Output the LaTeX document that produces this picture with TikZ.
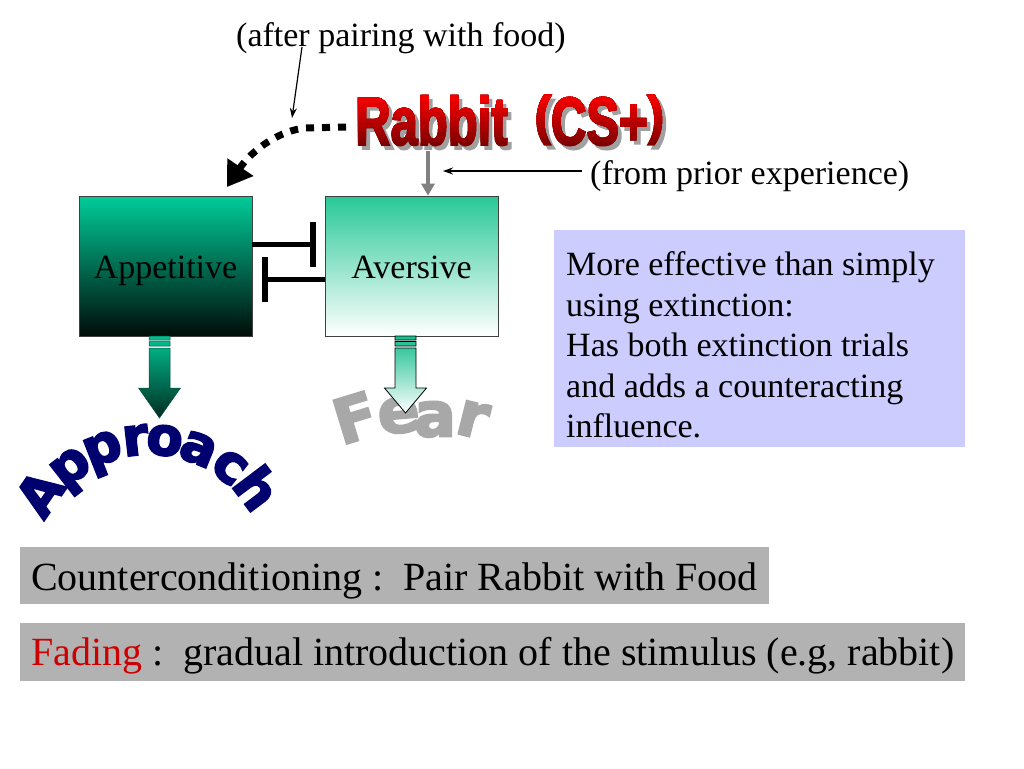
\documentclass[tikz,border=0pt]{standalone}
\usepackage{fontspec}
\setmainfont{Liberation Serif}
\newfontfamily\heavyfont[BoldFeatures={FakeBold=3.5}]{DejaVu Sans}
\newfontfamily\rabbitfont[BoldFeatures={FakeBold=2.5}]{Liberation Sans}
\usetikzlibrary{arrows.meta}

\definecolor{teal1}{RGB}{0,204,153}
\definecolor{appmid}{RGB}{0,128,100}
\definecolor{tealdark}{RGB}{0,12,8}
\definecolor{avtop}{RGB}{40,200,150}
\definecolor{avmid}{RGB}{165,230,210}
\definecolor{arrtop}{RGB}{0,195,145}
\definecolor{arrbot}{RGB}{0,45,35}
\definecolor{avarrtop}{RGB}{20,190,140}
\definecolor{lav}{RGB}{204,204,255}
\definecolor{boxgray}{RGB}{178,178,178}
\definecolor{fadered}{RGB}{204,0,0}
\definecolor{navyA}{RGB}{0,0,110}
\definecolor{feargray}{RGB}{168,168,168}
\definecolor{arrgray}{RGB}{128,128,128}
\definecolor{shadowgray}{RGB}{160,160,160}

\newcommand\rparen[1]{\raisebox{0.164em}{\scalebox{1}[0.78]{#1}}}
\newcommand\rabbittext{\rabbitfont\bfseries\fontsize{68}{68}\selectfont\scalebox{0.72}[1]{Rabbit\ \ \rparen{(}CS+\rparen{)}}}

\begin{document}
\begin{tikzpicture}[x=1pt,y=-1pt,
  txt/.style={font=\fontsize{34}{40.5}\selectfont, inner sep=0pt},
  thinarrow/.style={line width=1.2pt, -{Stealth[length=10pt,width=7pt]}},
  inhib/.style={line width=5pt},
  inhibbar/.style={line width=6pt},
  rab/.style={anchor=base west, inner sep=0pt},
  apletter/.style={font=\heavyfont\bfseries\fontsize{53}{53}\selectfont, text=navyA,
    anchor=mid, inner sep=0pt},
  fearletter/.style={font=\heavyfont\bfseries\fontsize{62}{62}\selectfont, text=feargray,
    anchor=mid, inner sep=0pt},
  bottombox/.style={fill=boxgray, anchor=north west, inner xsep=11pt,
    font=\fontsize{40}{48}\selectfont, text depth=10pt}
]
\fill[white] (0,0) rectangle (1024,768);
\useasboundingbox (0,0) rectangle (1024,768);

% ---------- top labels
\node[txt, anchor=base west] (after) at (236,46) {(after pairing with food)};
\node[txt, anchor=base west] (prior) at (590,184) {(from prior experience)};

% ---------- Rabbit (CS+)
\node[rab, text=shadowgray] (rabshadow) at (359,149) {\rabbittext};
\node[rab, text=red!50!black] (rabbit) at (355,145) {\rabbittext};
\foreach \i in {8,7,...,0}{
  \pgfmathsetmacro\pct{95-5*\i}
  \begin{scope}
    \clip (340,80) rectangle (700,101+5*\i);
    \node[rab, text=red!\pct!black] (rabbit\i) at (355,145) {\rabbittext};
  \end{scope}
}

% ---------- boxes
\node[txt, draw=black!75, line width=0.7pt, top color=teal1, middle color=appmid,
  bottom color=tealdark, minimum width=173pt, minimum height=140pt,
  text height=30pt, text depth=6pt] (appet) at (165.5,266) {Appetitive};
\node[txt, draw=black!75, line width=0.7pt, top color=avtop, middle color=avmid,
  bottom color=white, minimum width=173pt, minimum height=140pt,
  text height=30pt, text depth=6pt] (avers) at (411.5,266) {Aversive};

% ---------- connectors
\coordinate (afterend) at (292,118);
\coordinate (afterstart) at (302,47);
\draw[thinarrow] (afterstart) -- (afterend);

\coordinate (dotstart) at (346,127);
\coordinate (dotend) at (227,187);
\draw[line width=7pt, dash pattern=on 8pt off 8pt, -{Triangle[length=24pt,width=30pt]}]
  (dotstart) -- (306,128) .. controls (280,130) and (252,150) .. (dotend);

\coordinate (rabbot) at (428,151);
\draw[line width=4pt, arrgray, -{Triangle[length=12pt,width=13pt]}]
  (rabbot) -- (avers.north -| rabbot);

\coordinate (priorstart) at (582,171);
\coordinate (priorend) at (443,171);
\draw[thinarrow] (priorstart) -- (priorend);

% inhibition
\coordinate (barA) at (313,244);
\coordinate (barB) at (265,279);
\draw[inhib] (appet.east |- barA) -- (barA);
\draw[inhibbar] ([yshift=-22.5pt]barA) -- ([yshift=22.5pt]barA);
\draw[inhib] (avers.west |- barB) -- (barB);
\draw[inhibbar] ([yshift=-22.5pt]barB) -- ([yshift=22.5pt]barB);

% ---------- Fear (behind arrow tip)
\node[fearletter, rotate=17] (fear1) at (361,437) {F};
\node[fearletter, rotate=5] (fear2) at (400,430) {e};
\node[fearletter, rotate=0] (fear3) at (435,434) {a};
\node[fearletter, rotate=-14] (fear4) at (469,434) {r};

% ---------- block arrows
\shade[top color=arrtop, bottom color=arrbot, draw=black!60!teal1, line width=0.5pt]
  (149,336) rectangle (170,340)
  (149,341.5) rectangle (170,346)
  (149,348) -- (170,348) -- (170,388) -- (180.5,388) -- (159.5,418) -- (138.5,388) -- (149,388) -- cycle;
\shade[top color=avarrtop, bottom color=white, draw=black, line width=0.8pt]
  (395,336) rectangle (416,340)
  (395,341.5) rectangle (416,346)
  (395,348) -- (416,348) -- (416,388) -- (426.5,388) -- (405.5,413) -- (384.5,388) -- (395,388) -- cycle;

% ---------- Approach (letters on an arc)
\foreach \l/\a [count=\k] in {A/-55.5,p/-38,p/-21.5,r/-6.5,o/6.5,a/22,c/38,h/53}{
  \node[apletter, rotate=-\a] (ap\k) at ({150+117*sin(\a)},{569-117*cos(\a)}) {\l};
}

% ---------- lavender box
\node[fill=lav, minimum width=411pt, minimum height=217pt, anchor=north west,
  inner sep=0pt] (lavbox) at (554,230) {};
\node[txt, anchor=north west, align=left] (lavtext) at (566,251.8)
  {More effective than simply\\using extinction:\\Has both extinction trials\\and adds a counteracting\\influence.};

% ---------- bottom boxes
\node[bottombox, inner ysep=4pt, text height=39pt, minimum height=57pt] (cc) at (20,547)
  {Counterconditioning :\ \ Pair Rabbit with Food};
\node[bottombox, inner ysep=6pt, text height=36pt, minimum height=58pt] (fad) at (20,623)
  {{\color{fadered}Fading} :\ \ gradual introduction of the stimulus (e.g, rabbit)};
\end{tikzpicture}
\end{document}
